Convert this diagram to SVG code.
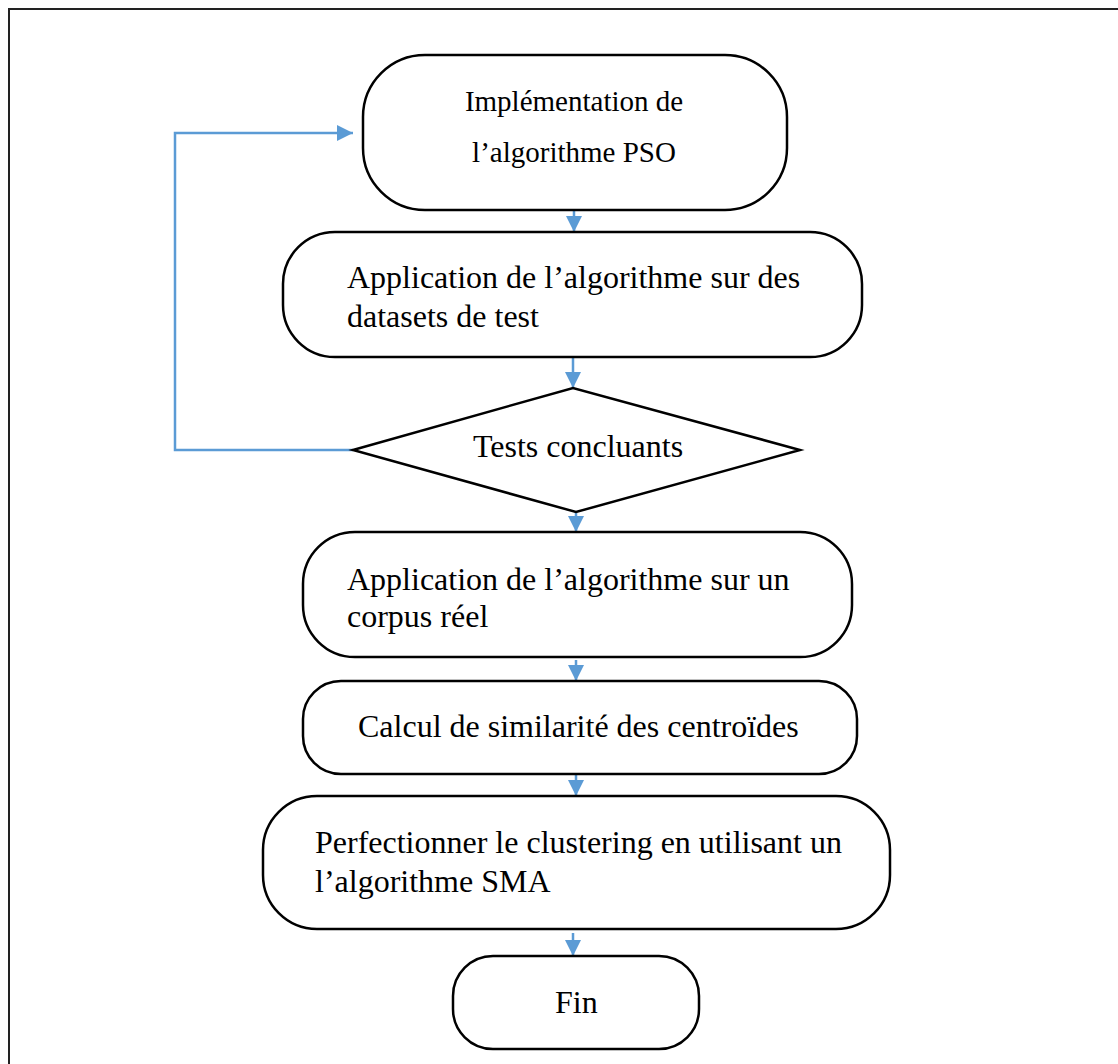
<svg xmlns="http://www.w3.org/2000/svg" width="1118" height="1064" viewBox="0 0 1118 1064">
<defs>
<style>
.node{fill:#fff;stroke:#000;stroke-width:2.5}
.t{font-family:"Liberation Serif","Times New Roman",serif;font-size:32px;fill:#000}
.t29{font-size:29px}
.c{stroke:#5B9BD5;stroke-width:2.5;fill:none}
</style>
<marker id="ah" viewBox="0 0 16 16" refX="16" refY="8" markerWidth="16" markerHeight="16" markerUnits="userSpaceOnUse" orient="auto">
<path d="M0,0 L16,8 L0,16 Z" fill="#5B9BD5"/>
</marker>
</defs>
<rect width="1118" height="1064" fill="#fff"/>
<rect x="9" y="9" width="1130" height="1080" fill="none" stroke="#222" stroke-width="2"/>
<g id="connectors">
<path class="c" d="M574,210 V232" marker-end="url(#ah)"/>
<path class="c" d="M573,357 V388" marker-end="url(#ah)"/>
<path class="c" d="M576,512 V532" marker-end="url(#ah)"/>
<path class="c" d="M576,660 V681" marker-end="url(#ah)"/>
<path class="c" d="M576,775 V796" marker-end="url(#ah)"/>
<path class="c" d="M573,933 V956" marker-end="url(#ah)"/>
<path class="c" d="M353,450 H175 V133 H353" marker-end="url(#ah)"/>
</g>
<g id="n1">
<rect class="node" x="363" y="55" width="424" height="155" rx="62"/>
<text class="t t29" x="574" y="111" text-anchor="middle">Implémentation de</text>
<text class="t t29" x="574" y="162" text-anchor="middle">l’algorithme PSO</text>
</g>
<g id="n2">
<rect class="node" x="283" y="232" width="579" height="125" rx="52"/>
<text class="t" x="347" y="288">Application de l’algorithme sur des</text>
<text class="t" x="347" y="327">datasets de test</text>
</g>
<g id="n3">
<polygon class="node" points="353,450 573,388 800,450 576,512"/>
<text class="t" x="473" y="457">Tests concluants</text>
</g>
<g id="n4">
<rect class="node" x="303" y="532" width="549" height="125" rx="52"/>
<text class="t" x="347" y="590">Application de l’algorithme sur un</text>
<text class="t" x="347" y="627">corpus réel</text>
</g>
<g id="n5">
<rect class="node" x="303" y="681" width="554" height="93" rx="38"/>
<text class="t" x="358" y="737">Calcul de similarité des centroïdes</text>
</g>
<g id="n6">
<rect class="node" x="263" y="796" width="627" height="133" rx="54"/>
<text class="t" x="315" y="853">Perfectionner le clustering en utilisant un</text>
<text class="t" x="315" y="892">l’algorithme SMA</text>
</g>
<g id="n7">
<rect class="node" x="453" y="956" width="246" height="93" rx="40"/>
<text class="t" x="555" y="1013">Fin</text>
</g>
</svg>
